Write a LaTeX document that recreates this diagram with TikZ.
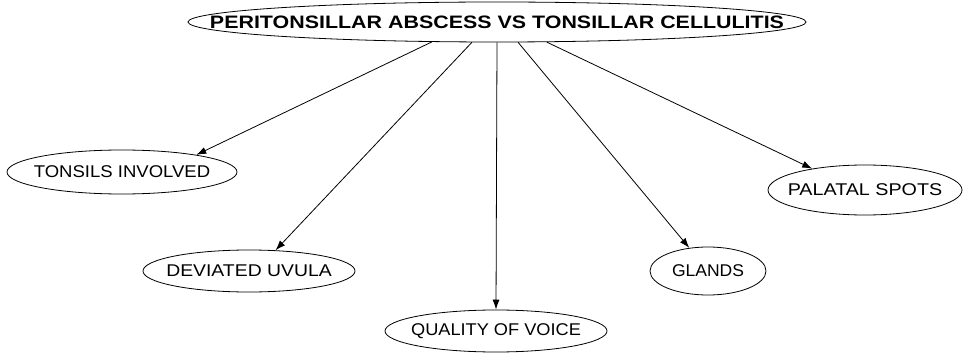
\documentclass[tikz,border=0pt]{standalone}
\usepackage{fontspec}
\setmainfont{Liberation Sans}
\usetikzlibrary{shapes.geometric,arrows.meta}
\newcommand{\wtxt}[2]{\makebox[0pt]{\scalebox{#1}[1]{#2}}}
\begin{document}
\begin{tikzpicture}[x=1pt,y=-1pt,
  oval/.style={ellipse,draw,line width=0.8pt,inner sep=0pt,font=\fontsize{17}{17}\selectfont},
  link/.style={-{Latex[length=10pt,width=7pt]},line width=0.8pt}]
\useasboundingbox (0,0) rectangle (963,358);
\node[oval,minimum width=618pt,minimum height=40pt,font=\bfseries\fontsize{18}{18}\selectfont] (top) at (497,22) {\wtxt{1.19}{PERITONSILLAR ABSCESS VS TONSILLAR CELLULITIS}};
\node[oval,minimum width=230pt,minimum height=44pt] (tons) at (122,172) {\wtxt{1.09}{TONSILS INVOLVED}};
\node[oval,minimum width=212pt,minimum height=42pt] (dev) at (249,271) {\wtxt{1.14}{DEVIATED UVULA}};
\node[oval,minimum width=222pt,minimum height=42pt] (qual) at (496,331) {\wtxt{1.07}{QUALITY OF VOICE}};
\node[oval,minimum width=116pt,minimum height=48pt] (gl) at (708,271) {\wtxt{1.03}{GLANDS}};
\node[oval,minimum width=194pt,minimum height=50pt] (pal) at (865,190) {\wtxt{1.16}{PALATAL SPOTS}};
\draw[link] (top.197) -- (tons.13);
\draw[link] (top.219) -- (dev.38);
\draw[link] (top.south) -- (qual.north);
\draw[link] (top.316) -- (gl.129);
\draw[link] (top.338) -- (pal.158);
\end{tikzpicture}
\end{document}
